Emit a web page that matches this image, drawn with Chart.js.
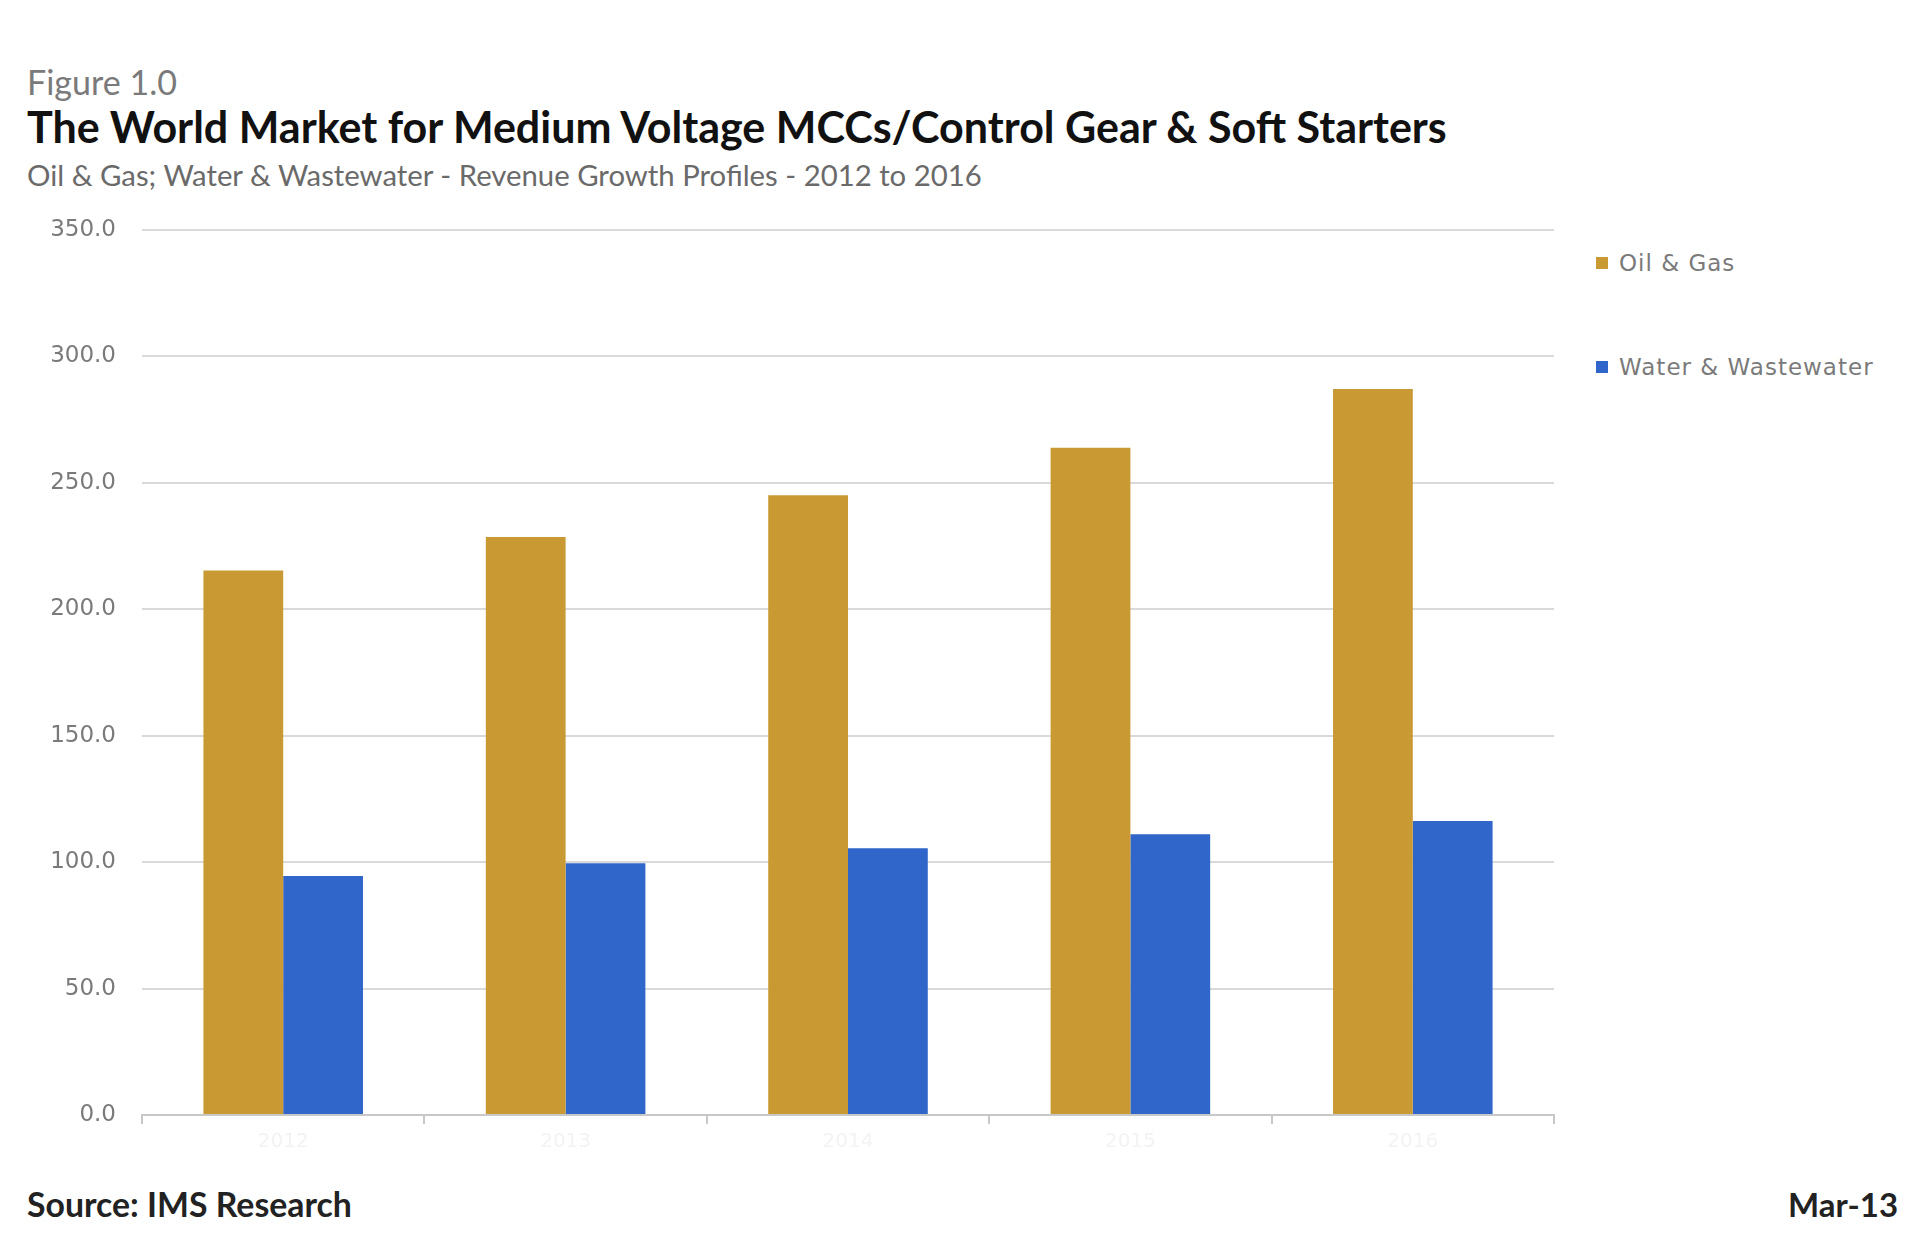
<!DOCTYPE html>
<html>
<head>
<meta charset="utf-8">
<script src="https://cdn.jsdelivr.net/npm/chart.js@4/dist/chart.umd.min.js"></script>
<style>
  html, body { margin:0; padding:0; background:#fff; width:1920px; height:1253px; overflow:hidden; }
  .t { position:absolute; white-space:nowrap; font-family: Lato, "Open Sans", sans-serif; line-height:1; }
  #fig { left:27px; top:65px; font-size:28px; color:#7a7a7a; }
  #title { left:27px; top:105px; font-size:36px; font-weight:bold; color:#111; }
  #sub { left:27px; top:160px; font-size:23px; color:#6a6a6a; }
  #source { left:27px; top:1188px; font-size:28px; font-weight:bold; color:#222; }
  #date { right:22px; top:1188px; font-size:28px; font-weight:bold; color:#222; }
  #legend { position:absolute; left:1596px; top:250px; font-family:"DejaVu Sans", sans-serif; font-size:23px; letter-spacing:1px; color:#7a7a7a; }
  .li { display:flex; align-items:center; height:26px; margin-bottom:78px; white-space:nowrap; }
  .sw { width:12px; height:12px; margin-right:11px; }
  #wrap { position:absolute; left:0; top:190px; width:1560px; height:985px; }
</style>
</head>
<body>
<div class="t" id="fig" data-w="150">Figure 1.0</div>
<div class="t" id="title" data-w="1420">The World Market for Medium Voltage MCCs/Control Gear &amp; Soft Starters</div>
<div class="t" id="sub" data-w="955">Oil &amp; Gas; Water &amp; Wastewater - Revenue Growth Profiles - 2012 to 2016</div>
<div class="t" id="source" data-w="325">Source: IMS Research</div>
<div class="t" id="date" data-w="110">Mar-13</div>
<div id="legend"></div>
<div id="wrap"><canvas id="c"></canvas></div>
<script>
const categories = ["2012", "2013", "2014", "2015", "2016"];
const oilGas = [215.3, 228.5, 245.0, 263.8, 287.1];
const waterWastewater = [94.5, 99.5, 105.5, 111.0, 116.2];
const seriesNames = ["Oil & Gas", "Water & Wastewater"];
const seriesColors = ["#C99A33", "#3066C9"];
const yTicks = [0, 50, 100, 150, 200, 250, 300, 350];

// fit text widths
document.querySelectorAll('.t[data-w]').forEach(el => {
  const target = +el.dataset.w;
  const fs = parseFloat(getComputedStyle(el).fontSize);
  const w = el.getBoundingClientRect().width;
  el.style.fontSize = (fs * target / w).toFixed(2) + 'px';
});

const leg = document.getElementById('legend');
seriesNames.forEach((n, i) => {
  const d = document.createElement('div'); d.className = 'li';
  const s = document.createElement('div'); s.className = 'sw'; s.style.background = seriesColors[i];
  const t = document.createElement('span'); t.textContent = n;
  d.appendChild(s); d.appendChild(t); leg.appendChild(d);
});

new Chart(document.getElementById('c'), {
  type: 'bar',
  data: {
    labels: categories,
    datasets: [
      { label: seriesNames[0], data: oilGas, backgroundColor: seriesColors[0], categoryPercentage: 0.565, barPercentage: 1.0 },
      { label: seriesNames[1], data: waterWastewater, backgroundColor: seriesColors[1], categoryPercentage: 0.565, barPercentage: 1.0 }
    ]
  },
  options: {
    responsive: true,
    maintainAspectRatio: false,
    animation: false,
    layout: { padding: { top: 20, right: 6, left: 0, bottom: 0 } },
    plugins: { legend: { display: false }, tooltip: { enabled: false }, title: { display: false } },
    scales: {
      x: {
        offset: true,
        grid: { offset: true, drawOnChartArea: false, drawTicks: true, tickLength: 9, color: '#c8c8c8', lineWidth: 2 },
        border: { display: true, color: '#c8c8c8', width: 2 },
        ticks: { color: '#f3f3f3', font: { family: 'DejaVu Sans', size: 20 }, padding: 6 },
        afterFit: s => { s.height = 60; }
      },
      y: {
        min: 0, max: 350,
        afterBuildTicks: s => { s.ticks = yTicks.map(v => ({ value: v })); },
        grid: { color: '#d9d9d9', lineWidth: 2, drawTicks: false },
        border: { display: false },
        ticks: { color: '#7a7a7a', font: { family: 'DejaVu Sans', size: 23 }, padding: 26, callback: v => Number(v).toFixed(1) },
        afterFit: s => { s.width = 142; }
      }
    }
  }
});
</script>
</body>
</html>
